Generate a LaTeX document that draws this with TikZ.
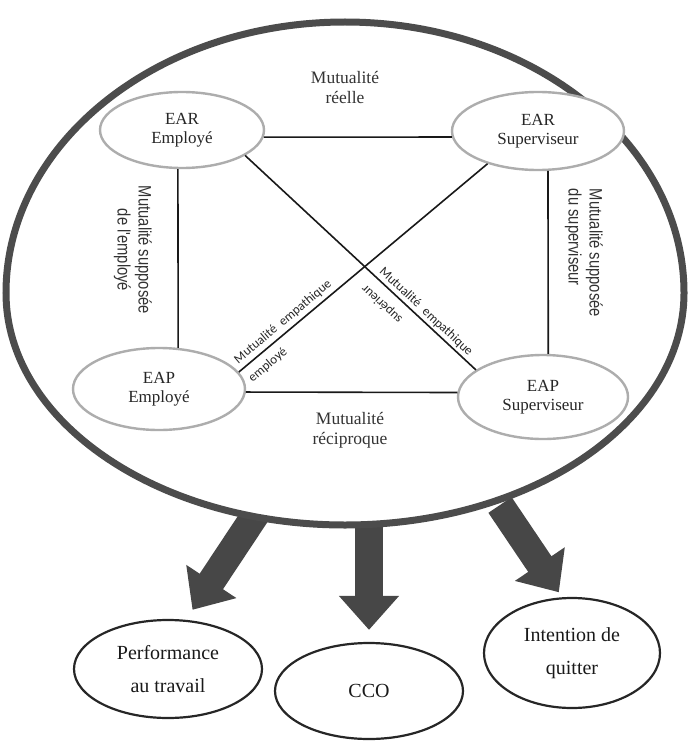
\documentclass[tikz,border=0pt]{standalone}
\usepackage{fontspec}
\setmainfont{Liberation Serif}
\newfontfamily\narrowsans[FakeStretch=0.82]{Liberation Sans}
\newfontfamily\empfont{Carlito}
\usetikzlibrary{arrows.meta,shapes.geometric}

\begin{document}
\begin{tikzpicture}[
  x=1pt, y=-1pt,
  inner/.style={draw=black!32, line width=2.4pt, fill=white, ellipse, inner sep=0pt, align=center, text=black!85, font=\fontsize{17}{19}\selectfont},
  outcome/.style={draw=black!85, line width=2.2pt, ellipse, inner sep=0pt, align=center, text=black!90, font=\fontsize{20}{33}\selectfont},
  link/.style={line width=1.6pt, black!90},
  lbl/.style={align=center, text=black!80, font=\fontsize{17.5}{20}\selectfont},
  side/.style={align=center, rotate=-90, text=black!80, font=\narrowsans\fontsize{18}{21}\selectfont},
  emp/.style={inner sep=0pt, text=black!85, font=\empfont\fontsize{13}{15}\selectfont},
  bigarr/.style={line width=28pt, draw=black!72, -{Triangle[length=34pt, width=58pt]}}
]
\useasboundingbox (0,0) rectangle (689,741);

\node[outcome, minimum width=188pt, minimum height=98pt] (perf) at (168,669) {Performance\\au travail};
\node[outcome, minimum width=188pt, minimum height=96pt] (cco) at (369,691) {CCO};
\node[outcome, minimum width=176pt, minimum height=110pt] (quit) at (572,653) {Intention de\\quitter};

\coordinate (a1) at (262,505);
\coordinate (a2) at (369,505);
\coordinate (a3) at (500,505);
\draw[bigarr, shorten >=12pt] (a1) -- (perf.70);
\draw[bigarr, shorten >=12pt] (a2) -- (cco.north);
\draw[bigarr, shorten >=6pt] (a3) -- (quit.100);

\draw[line width=7pt, draw=black!70, fill=white] (6,293)
  arc[start angle=180, end angle=0, x radius=339pt, y radius=271pt]
  arc[start angle=0, end angle=-180, x radius=339pt, y radius=232pt] -- cycle;

\node[inner, minimum width=164pt, minimum height=76pt] (earE) at (182,130) {EAR\\Employé};
\node[inner, minimum width=172pt, minimum height=78pt] (earS) at (538,131) {EAR\\Superviseur};
\node[inner, minimum width=172pt, minimum height=82pt] (eapE) at (159,389) {EAP\\Employé};
\node[inner, minimum width=170pt, minimum height=84pt] (eapS) at (543,397) {EAP\\Superviseur};

\draw[link] (earE.-5) -- (earS.184);
\draw[link] (eapE.-2) -- (eapS.177);
\draw[link] (earE.264) -- (eapE.65);
\draw[link] (earS.284) -- (eapS.83);
\draw[link] (earE.-22) -- (eapS.158);
\draw[link] (earS.213) -- (eapE.12);

\node[lbl] (reelle) at (345,88) {Mutualité\\réelle};
\node[lbl] (recip) at (350,430) {Mutualité\\réciproque};
\node[side] (supE) at (133,250) {Mutualité supposée\\de l'employé};
\node[side, align=left] (supS) at (584,253) {Mutualité supposée\\du superviseur};

\node[emp, rotate=40] (empE) at (283,322) {Mutualité\enspace empathique};
\node[emp, rotate=40] (empEb) at (268,365) {employé};
\node[emp, rotate=-43] (empS) at (426,312) {Mutualité\enspace empathique};
\node[emp, rotate=137] (empSb) at (382,304) {supérieur};
\end{tikzpicture}
\end{document}
